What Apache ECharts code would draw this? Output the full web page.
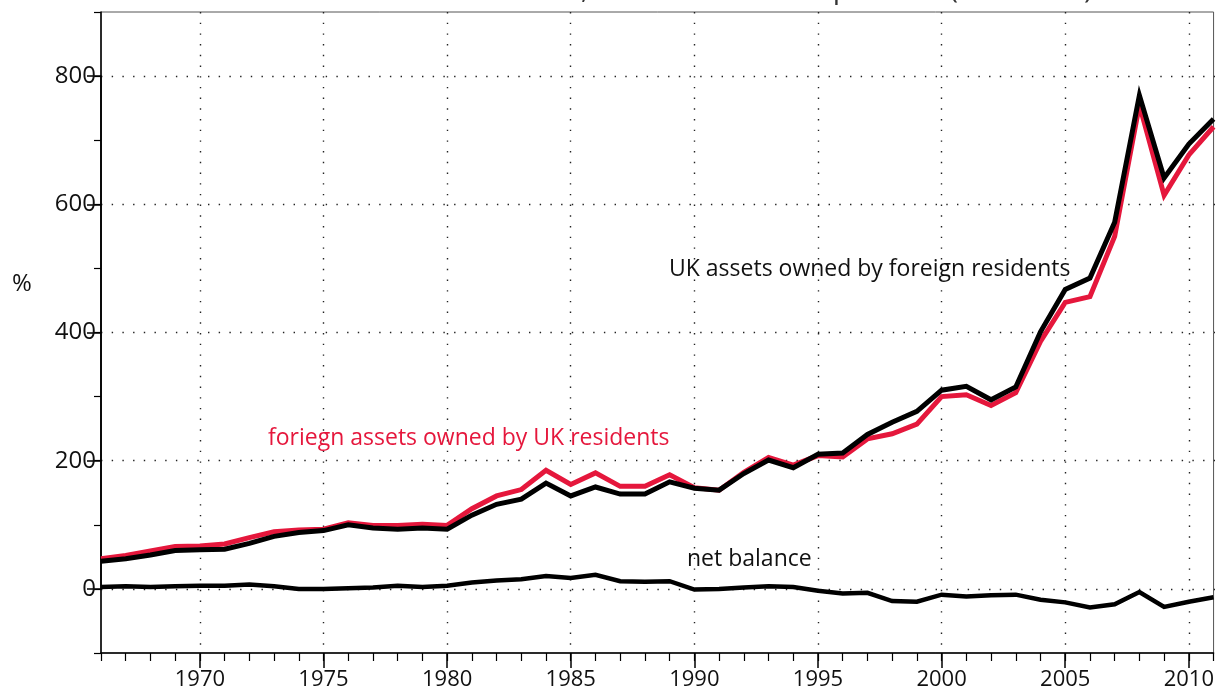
<!DOCTYPE html>
<html>
<head>
<meta charset="utf-8">
<script src="https://cdn.jsdelivr.net/npm/echarts@6/dist/echarts.min.js"></script>
<style>
html,body{margin:0;padding:0;background:#fff;}
#chart{width:1217px;height:691px;}
</style>
</head>
<body>
<div id="chart"></div>
<script>
const years = [];
for (let y = 1966; y <= 2011; y++) years.push(String(y));

// UK assets owned by foreign residents (% of GDP)
const ukAssetsForeignOwned = [43,47,53,60,61,62,71,82,88,91,100,95,93,95,93,115,132,140,165,145,159,148,148,167,157,154,180,201,189,210,212,241,260,277,310,316,295,315,401,467,485,572,770,641,694,733];
// foreign assets owned by UK residents (% of GDP)
const foreignAssetsUkOwned = [47,52,59,66,67,70,80,89,92,93,103,99,99,101,99,125,145,155,185,163,181,160,160,178,158,154,182,205,193,208,206,234,242,257,300,303,286,306,386,447,456,550,755,614,677,721];
// net balance (% of GDP)
const netBalance = [3,4,3,4,5,5,7,4,0,0,1,2,5,3,5,10,13,15,20,17,22,12,11,12,-1,0,2,4,3,-3,-7,-6,-19,-20,-9,-12,-10,-9,-17,-21,-29,-24,-5,-28,-20,-13];

const yTickLabels = [0,200,400,600,800];
const titleText = 'Chart 1: UK external assets, liabilities and net position (% of GDP)';

const FONT = 'Open Sans';
const dotted = {color:'#222', width:1.4, type:[1.4, 9.3]};
const every5 = (i, v) => Number(v) % 5 === 0;

const chart = echarts.init(document.getElementById('chart'), null, {renderer:'canvas'});
chart.setOption({
  animation:false,
  backgroundColor:'#fff',
  textStyle:{fontFamily:FONT},
  grid:[
    {left:101, right:2, top:12, bottom:38, show:true, borderColor:'#555', borderWidth:1, backgroundColor:'transparent'},
    {left:101, right:2, top:76.1, bottom:102.1, show:false}
  ],
  xAxis:[
    {type:'category', gridIndex:0, position:'bottom', data:years, boundaryGap:false,
     axisLine:{show:true, onZero:false, lineStyle:{color:'#000', width:1.5}},
     axisTick:{show:true, interval:every5, length:15, lineStyle:{color:'#000', width:1.5}},
     axisLabel:{interval:every5, fontSize:22, color:'#111', fontFamily:FONT, margin:16},
     splitLine:{show:true, interval:every5, lineStyle:dotted}},
    {type:'category', gridIndex:0, position:'bottom', data:years, boundaryGap:false,
     axisLine:{show:false, onZero:false}, axisTick:{show:true, interval:0, length:8, lineStyle:{color:'#000', width:1.2}},
     axisLabel:{show:false}, splitLine:{show:false}},
    {type:'value', gridIndex:1, show:false, min:0, max:1, axisLine:{onZero:false}}
  ],
  yAxis:[
    {type:'value', gridIndex:0, position:'left', min:-100, max:900, interval:100,
     axisLine:{show:true, onZero:false, lineStyle:{color:'#000', width:1.5}},
     axisTick:{show:true, length:7, lineStyle:{color:'#000', width:1.2}},
     axisLabel:{show:false}, splitLine:{show:false}},
    {type:'value', gridIndex:1, position:'left', min:yTickLabels[0], max:yTickLabels[yTickLabels.length-1], interval:200,
     axisLine:{show:true, onZero:false, lineStyle:{color:'#000', width:1.5}},
     axisTick:{show:true, length:14, lineStyle:{color:'#000', width:1.5}},
     axisLabel:{fontSize:24, color:'#111', fontFamily:FONT, margin:5},
     splitLine:{show:true, lineStyle:dotted}}
  ],
  series:[
    {name:'foriegn assets owned by UK residents', type:'line', xAxisIndex:0, yAxisIndex:0, data:foreignAssetsUkOwned,
     symbol:'none', lineStyle:{color:'#E5173C', width:5, join:'miter'}, z:3},
    {name:'UK assets owned by foreign residents', type:'line', xAxisIndex:0, yAxisIndex:0, data:ukAssetsForeignOwned,
     symbol:'none', lineStyle:{color:'#000', width:5, join:'miter'}, z:4},
    {name:'net balance', type:'line', xAxisIndex:0, yAxisIndex:0, data:netBalance,
     symbol:'none', lineStyle:{color:'#000', width:4.5, join:'miter'}, z:4}
  ],
  graphic:[
    {type:'text', left:218, top:-25, style:{text:titleText, font:'29px "'+FONT+'"', fill:'#333'}},
    {type:'text', left:12, top:272, style:{text:'%', font:'24px "'+FONT+'"', fill:'#111'}},
    {type:'text', left:669, top:258, style:{text:'UK assets owned by foreign residents', font:'23px "'+FONT+'"', fill:'#111'}, z:10},
    {type:'text', left:268, top:427, style:{text:'foriegn assets owned by UK residents', font:'23px "'+FONT+'"', fill:'#E5173C'}, z:10},
    {type:'text', left:687, top:548, style:{text:'net balance', font:'23px "'+FONT+'"', fill:'#111'}, z:10}
  ]
});
</script>
</body>
</html>
